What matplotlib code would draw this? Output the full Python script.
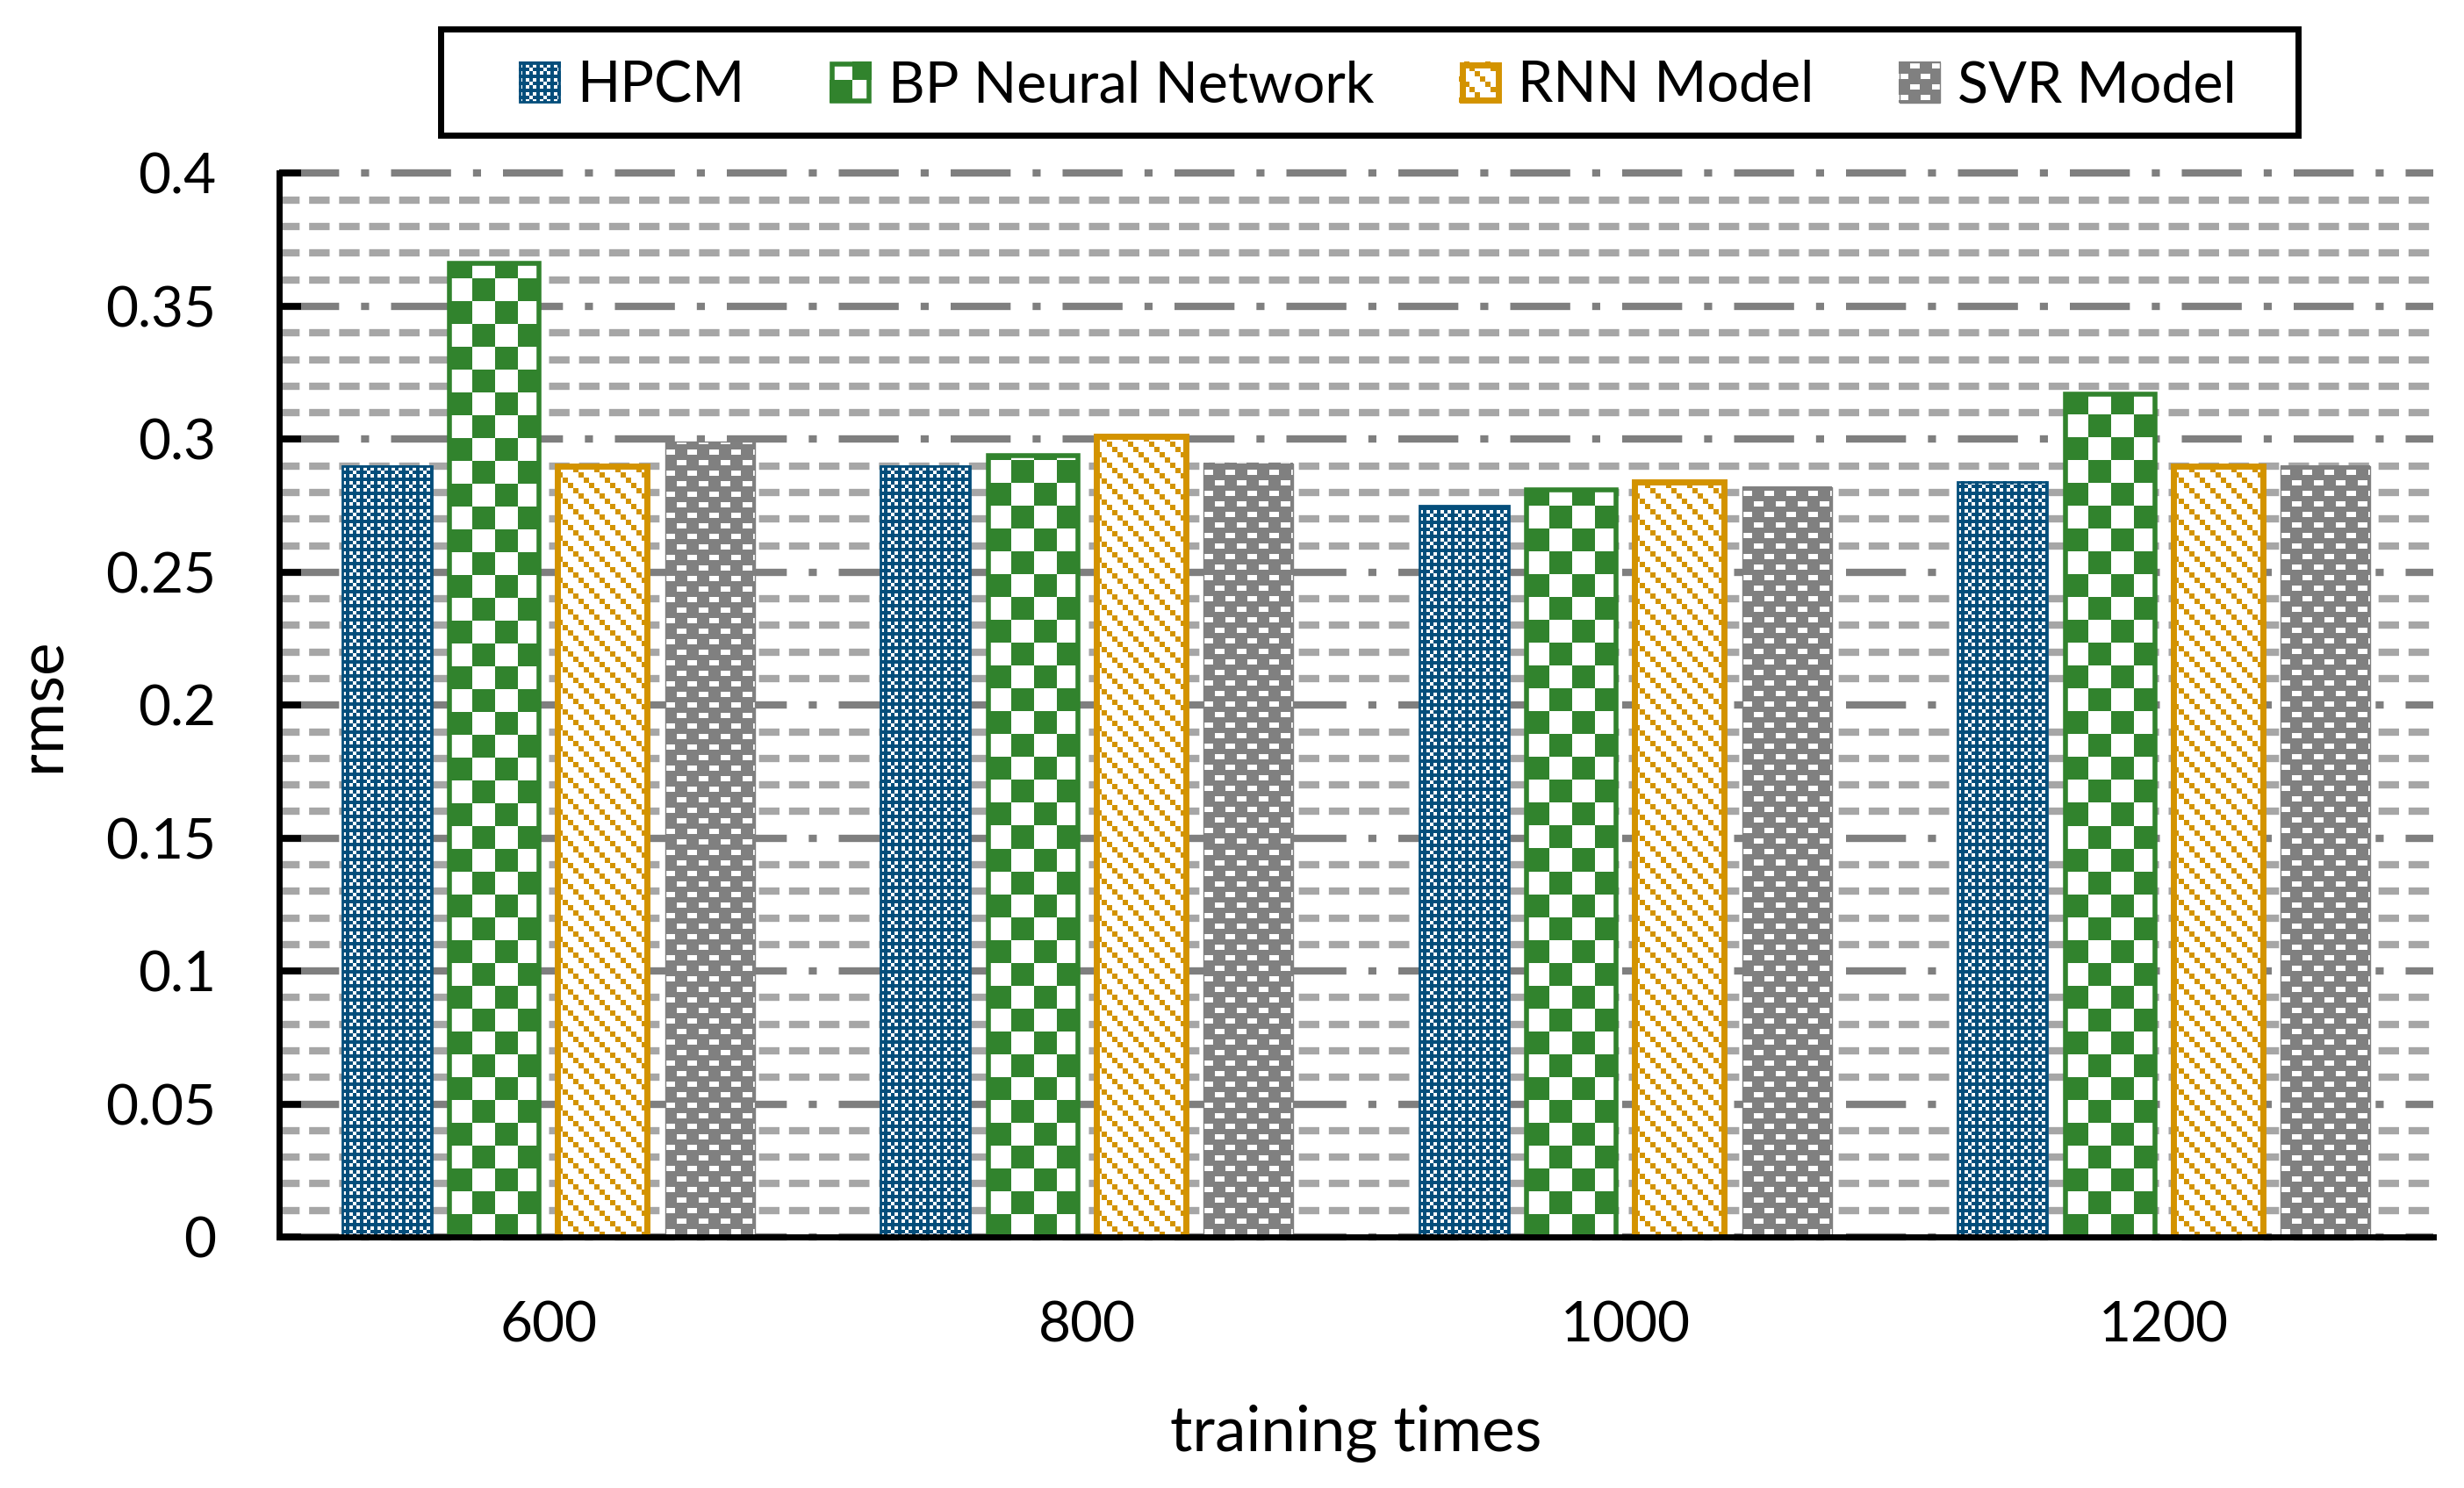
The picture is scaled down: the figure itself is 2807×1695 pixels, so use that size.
import numpy as np
import matplotlib
matplotlib.use("Agg")
import matplotlib.pyplot as plt
from matplotlib.patches import Rectangle
from matplotlib.collections import PatchCollection
from matplotlib.legend_handler import HandlerBase
from matplotlib.colors import to_rgb
from matplotlib.ticker import FixedLocator, FixedFormatter, MultipleLocator

plt.rcParams['font.family'] = ['Lato', 'DejaVu Sans']

# data
categories = ["600", "800", "1000", "1200"]
series = ["HPCM", "BP Neural Network", "RNN Model", "SVR Model"]
hpcm = [0.290, 0.290, 0.275, 0.284]
bp_nn = [0.366, 0.294, 0.281, 0.317]
rnn = [0.290, 0.301, 0.284, 0.290]
svr = [0.299, 0.291, 0.282, 0.290]
y_ticks = [0, 0.05, 0.1, 0.15, 0.2, 0.25, 0.3, 0.35, 0.4]
y_labels = ["0", "0.05", "0.1", "0.15", "0.2", "0.25", "0.3", "0.35", "0.4"]

BLUE = "#054E7B"
GREEN = "#31832D"
ORANGE = "#D39300"
GRAY = "#808080"

# pattern, ink colour, background, edge colour, edge width
styles = [
    ("hpcm", BLUE, "white", BLUE, 2),
    ("bp", GREEN, "white", GREEN, 4),
    ("rnn", ORANGE, "white", ORANGE, 5),
    ("svr", "white", GRAY, GRAY, 1),
]


def texture_mask(kind, w, h):
    # pixel pattern fills like the Excel ones in the original
    y, x = np.mgrid[0:h, 0:w]
    if kind == "hpcm":
        i, j = y // 4, x // 4
        white = ((i % 2 == 0) & (j % 2 == 0)) | \
                ((i % 4 == 1) & (j % 4 == 3))
        return ~white
    if kind == "bp":
        return (x // 26 + y // 26) % 2 == 0
    if kind == "rnn":
        return (x // 6 + y // 6) % 4 == 0
    r = y // 12
    return ((y % 12) >= 3) & ((y % 12) < 9) & (((x + (r % 2) * 12) % 25) < 11)


def add_texture(ax, rect, pat, ink, bg):
    x0, y0 = rect.get_x(), rect.get_y()
    x1, y1 = x0 + rect.get_width(), y0 + rect.get_height()
    (p0, q0), (p1, q1) = ax.transData.transform([(x0, y0), (x1, y1)])
    w, h = int(round(p1 - p0)), int(round(q1 - q0))
    m = texture_mask(pat, w, h)
    img = np.where(m[..., None], np.array(to_rgb(ink)), np.array(to_rgb(bg)))
    ax.imshow(img, extent=(x0, x1, y0, y1), origin="lower",
              interpolation="nearest", aspect="auto", zorder=3)


class PatternHandler(HandlerBase):
    def __init__(self, style):
        super().__init__()
        self.style = style

    def create_artists(self, legend, orig_handle, xdescent, ydescent,
                       width, height, fontsize, trans):
        pat, ink, bg, ec, lw = self.style
        ppt = legend.figure.dpi / 72
        nw, nh = int(round(width * ppt)), int(round(height * ppt))
        m = texture_mask(pat, nw, nh)
        x0, y0 = -xdescent, -ydescent
        cells = []
        for r in range(nh):
            row = m[r]
            c = 0
            while c < nw:
                if row[c]:
                    s = c
                    while c < nw and row[c]:
                        c += 1
                    cells.append(Rectangle((x0 + s / ppt, y0 + r / ppt),
                                           (c - s) / ppt, 1 / ppt))
                else:
                    c += 1
        base = Rectangle((x0, y0), width, height, facecolor=bg,
                         edgecolor="none", transform=trans)
        coll = PatchCollection(cells, facecolor=ink, edgecolor="none",
                               antialiased=False, transform=trans)
        frame = Rectangle((x0 + lw / 2, y0 + lw / 2), width - lw, height - lw,
                          facecolor="none", edgecolor=ec, linewidth=lw,
                          transform=trans)
        return [base, coll, frame]


fig = plt.figure(figsize=(28.07, 16.95), dpi=100)
ax = fig.add_axes([318 / 2807, 286 / 1695, 2454 / 2807, 1211.5 / 1695])
ax.set_xlim(-0.5, 3.5)
ax.set_ylim(0, 0.4)

x = np.arange(len(categories))
width = 0.166
offsets = [-0.3, -0.1, 0.1, 0.3]

for k, vals in enumerate([hpcm, bp_nn, rnn, svr]):
    pat, ink, bg, ec, lw = styles[k]
    bars = ax.bar(x + offsets[k], vals, width, color=bg, edgecolor="none", zorder=2)
    for r in bars:
        add_texture(ax, r, pat, ink, bg)
    ax.bar(x + offsets[k], vals, width, facecolor="none", edgecolor=ec,
           linewidth=lw, zorder=4)

ax.set_xlim(-0.5, 3.5)
ax.set_ylim(0, 0.4)

# axes, ticks, grid
ax.yaxis.set_major_locator(FixedLocator(y_ticks))
ax.yaxis.set_major_formatter(FixedFormatter(y_labels))
ax.yaxis.set_minor_locator(MultipleLocator(0.01))
ax.set_xticks(x, categories)

ax.set_axisbelow(True)
ax.grid(axis="y", which="major", color="#7F7F7F", linewidth=6,
        linestyle=(0, (8.2, 3.0, 1.1, 3.0)), clip_on=False)
ax.grid(axis="y", which="minor", color="#A6A6A6", linewidth=6,
        linestyle=(0, (2.8, 1.3)))

for side in ["top", "right"]:
    ax.spines[side].set_visible(False)
for side in ["left", "bottom"]:
    ax.spines[side].set_linewidth(5)
    ax.spines[side].set_color("black")
    ax.spines[side].set_zorder(5)

ax.tick_params(axis="y", which="major", direction="in", length=18, width=5.5,
               labelsize=46, pad=52)
ax.tick_params(axis="y", which="minor", length=0)
ax.tick_params(axis="x", length=0, labelsize=46, pad=52)

ax.set_xlabel("training times", fontsize=51)
ax.xaxis.label.set_va("baseline")
ax.xaxis.set_label_coords(0.5, (1409 - 1653) / 1211.5)
ax.set_ylabel("rmse", fontsize=51)
ax.yaxis.label.set_va("baseline")
ax.yaxis.set_label_coords((68 - 318) / 2454, 0.5)

# legend
handles = [Rectangle((0, 0), 1, 1) for _ in series]
hmap = {h: PatternHandler(st) for h, st in zip(handles, styles)}
fig.legend(handles, series, handler_map=hmap, loc="center",
           bbox_to_anchor=(0.5590, 0.9422), bbox_transform=fig.transFigure,
           ncol=4, frameon=False, fontsize=46.5, handlelength=0.74,
           handleheight=0.74, handletextpad=0.29, columnspacing=1.5,
           borderpad=0, borderaxespad=0)
fig.add_artist(Rectangle((502 / 2807, 1 - 154 / 1695), (2618 - 502) / 2807,
                         (154 - 33) / 1695, fill=False, edgecolor="black",
                         linewidth=5, transform=fig.transFigure))

fig.savefig("out.png", dpi=100)
